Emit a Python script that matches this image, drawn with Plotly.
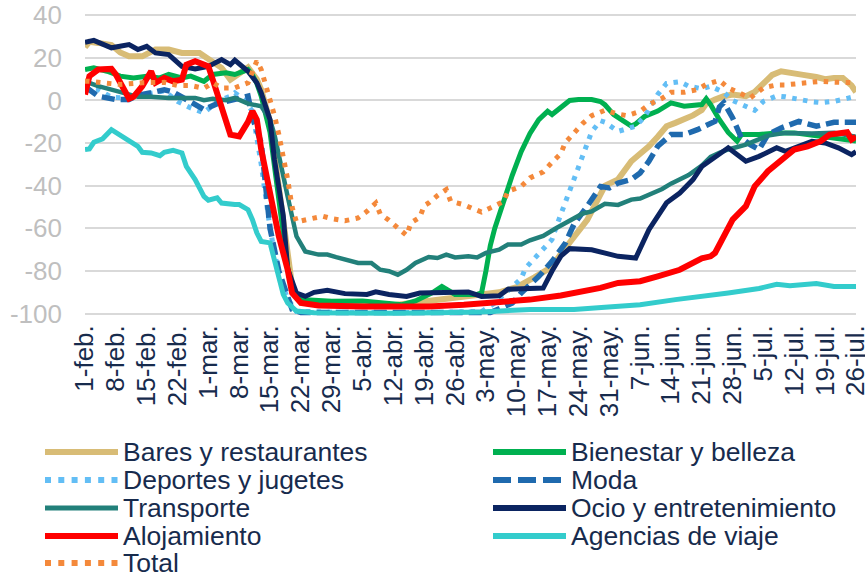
import plotly.graph_objects as go

# ---------------- data (day index 0 = 1-feb) ----------------
tick_labels = ["1-feb.", "8-feb.", "15-feb.", "22-feb.", "1-mar.", "8-mar.", "15-mar.", "22-mar.",
               "29-mar.", "5-abr.", "12-abr.", "19-abr.", "26-abr.", "3-may.", "10-may.", "17-may.",
               "24-may.", "31-may.", "7-jun.", "14-jun.", "21-jun.", "28-jun.", "5-jul.", "12-jul.",
               "19-jul.", "26-jul."]
tick_days = [7 * i for i in range(len(tick_labels))]
y_ticks = [-100, -80, -60, -40, -20, 0, 20, 40]
y_tick_text = ["-100", "-80", "-60", "-40", "-20", "0", "20", "40"]

bares_days = [0, 1, 3, 6, 8, 10, 13, 16, 19, 22, 26, 28, 31, 33, 35, 37, 39, 40, 42, 44, 46, 47, 48, 50, 55, 60, 65, 70,
              74, 80, 85, 88, 91, 94, 98, 100, 102, 104, 106, 108, 110, 112, 114, 116, 118, 121, 124, 126, 128, 130,
              132, 134, 136, 138, 140, 141, 143, 145, 147, 150, 152, 154, 156, 158, 160, 163, 166, 168, 170, 172,
              174, 175]
bares_vals = [25, 27.5, 27, 26, 22.5, 20.7, 20.7, 23.9, 23.9, 22.3, 22.3, 19.2, 15.3, 9.8, 13, 15.5, 10, 5, -10, -40,
              -75, -87, -92, -95, -95.5, -96, -96, -96, -95, -93.5, -92.5, -92, -91, -90, -87.5, -85.5, -83, -80.5,
              -78, -72, -67, -61.5, -56, -48, -40, -37, -28.5, -25, -21.5, -17, -12.1, -10.5, -9, -7, -4.5, -1.5,
              0.4, 2, 2.8, 2, 4, 8, 12, 13.7, 12.8, 12, 11, 10, 10.5, 10.5, 7, 4]

bien_days = [0, 2, 5, 8, 11, 14, 17, 19, 22, 24, 27, 29, 32, 34, 37, 38, 39, 40, 42, 44, 46, 47, 48, 50, 56, 63, 68,
             72, 75, 77, 79, 81, 83, 84, 89, 90, 91, 92, 93, 95, 97, 99, 101, 103, 105, 106, 108, 110, 112, 115, 117,
             118, 120, 122, 124, 125, 127, 130, 133, 136, 140, 141, 142, 144, 146, 148, 149, 153, 157, 161, 167,
             171, 175]
bien_vals = [14.5, 15.3, 13.7, 11.4, 10.6, 11.4, 10.6, 12.2, 10.6, 11.4, 9, 12.2, 13, 12.2, 14.5, 12, 8, 2, -15, -45,
             -78, -88, -92, -93.5, -94.2, -94, -95, -95.8, -94, -92, -90, -87.2, -89.5, -91, -91, -90.3, -80, -68,
             -60, -46.5, -35, -24, -15.5, -9, -5.1, -6.6, -3.5, 0, 0.4, 0.4, -0.5, -2, -6.6, -9.5, -12, -11, -7.5,
             -5, -1.1, -2.7, -1.9, 0.8, -2, -9, -15, -19.1, -16, -16, -15.2, -15.2, -16.8, -18.3, -19]

dep_days = [0, 3, 6, 10, 14, 18, 21, 24, 27, 30, 33, 34, 36, 38, 40, 42, 44, 46, 48, 60, 80, 90, 93, 99, 100, 102,
            104, 106, 107, 108, 109, 110, 111, 112, 113, 114, 115, 117, 118, 121, 125, 127, 130, 132, 135, 137, 140,
            142, 145, 147, 149, 152, 154, 157, 159, 162, 165, 167, 170, 173, 175]
dep_vals = [6, 5.1, 1.5, 1, 3, 4.5, -0.4, -3.5, -5.8, -0.4, 2, 3.6, 0.5, -5, -30, -60, -82, -93, -99, -99.5, -99.5,
            -99, -95, -83.5, -78.6, -73.9, -69.5, -65.2, -59, -53.5, -48, -41.8, -36, -31, -26, -20, -14.7, -9.5,
            -10.2, -14.5, -12.1, -7.6, 2.8, 8, 8.8, 6.7, 5.5, 6.7, 3.8, 0, -1.9, -4.6, -0.4, 2.1, 1.7, 0.4, -0.6,
            -1, -0.4, 1, 2]

moda_days = [0, 1, 3, 7, 10, 12, 15, 18, 20, 23, 25, 27, 30, 34, 37, 38, 40, 41, 42, 44, 46, 47, 49, 60, 75, 92, 97,
             99, 103, 106, 109, 111, 114, 117, 119, 121, 124, 126, 128, 130, 133, 136, 139, 142, 143, 144, 145, 147,
             149, 151, 153, 155, 158, 162, 166, 170, 175]
moda_vals = [5, 5, 2, 0.4, 0.4, 2.4, 3.6, 5, 4, 0.5, -2, -4.3, -1.5, 0.4, 2, -8, -20, -40, -60, -80, -91, -98, -99.5,
             -99.5, -99.5, -99.5, -95, -90.3, -82.5, -75.5, -67, -58, -49.6, -40.3, -41, -38.7, -37.1, -34, -28.5,
             -21.5, -16, -16, -13.7, -11, -9.8, -3, -1, -8.2, -17.6, -20.7, -23, -16, -12.9, -9.8, -12.1, -10.2,
             -10.2]

trans_days = [0, 3, 6, 9, 12, 15, 19, 25, 27, 29, 32, 34, 37, 40, 42, 43, 45, 46, 48, 50, 53, 55, 57, 59, 62, 65, 67,
              69, 71, 73, 75, 78, 80, 82, 84, 87, 89, 91, 94, 96, 99, 101, 104, 107, 110, 113, 115, 118, 121, 124,
              126, 129, 131, 133, 135, 137, 140, 142, 144, 146, 150, 155, 159, 165, 170, 175]
trans_vals = [9, 6.7, 5.1, 3.6, 1.7, 1.7, 1.2, 1.2, 0.1, 0.8, 0.1, 1.2, -1.5, -2.7, -9, -16, -34, -45, -63.7, -70.8,
              -72.3, -72.3, -73.5, -74.7, -76.2, -76.2, -79.4, -80.1, -81.7, -79.4, -76.2, -73.4, -73.9, -72.3,
              -73.6, -73.1, -73.6, -71.5, -70, -67.6, -67.6, -65.6, -63.5, -59.8, -56.2, -53, -52, -48.5, -49,
              -46.5, -46, -43.4, -41.5, -39, -37, -35, -30.5, -26.5, -24.5, -23, -20.7, -16.5, -15.2, -15.5, -15.2,
              -17]

ocio_days = [0, 2, 6, 10, 12, 14, 16, 19, 22, 25, 28, 31, 33, 34, 37, 39, 40, 42, 43, 45, 46, 48, 50, 52, 55, 59, 64,
             66, 69, 73, 76, 82, 87, 90, 94, 96, 104, 106, 108, 110, 115, 121, 125, 128, 132, 135, 138, 140, 142,
             144, 146, 150, 153, 157, 159, 162, 165, 168, 171, 174, 175]
ocio_vals = [27.3, 28.2, 24.7, 26.2, 23.9, 25.4, 22.3, 21.5, 16, 14.8, 16, 19.2, 16.8, 18.9, 13.7, 8.3, 3.6, -9,
             -27.7, -54, -79, -90.3, -91.9, -90, -89, -90.6, -91, -89.8, -91, -91.9, -90.3, -89.8, -89.8, -91.9,
             -91.6, -88.5, -88, -80, -73, -69.5, -70, -73.1, -73.9, -60.6, -48, -43.4, -37.1, -31, -28, -24.6,
             -22.2, -28.5, -26.2, -22.2, -23.8, -21.5, -19.1, -19.9, -22.2, -25.4, -24]

aloj_days = [0, 1, 3, 6, 7, 9, 10, 11, 13, 15, 16, 18, 20, 22, 23, 25, 28, 29, 31, 32, 33, 35, 37, 38, 39, 40, 42, 44,
             46, 47, 49, 53, 63, 78, 86, 93, 101, 108, 112, 117, 121, 126, 130, 135, 140, 142, 143, 145, 147, 150,
             152, 155, 158, 161, 164, 167, 169, 171, 173, 174, 175]
aloj_vals = [2.8, 11.4, 14.5, 14.8, 12.2, 5.1, 0.8, 1.7, 6.7, 13.7, 8.3, 10.6, 9, 9.8, 16.8, 18.4, 16, 9.8, -4.3,
             -10.5, -16, -16.8, -10, -5, -9, -23, -45, -63.7, -79.4, -90.3, -95, -96.2, -96.6, -96.6, -95.8, -95,
             -93.4, -91.5, -90, -87.9, -85.6, -84.8, -82.5, -79.4, -74, -73.1, -71.5, -63.7, -55.9, -49.6, -40.3,
             -33.2, -27.7, -23, -21.5, -19.1, -16, -15.2, -14.9, -18.3, -17]

agen_days = [0, 1, 2, 4, 6, 8, 10, 12, 13, 15, 17, 18, 20, 22, 23, 25, 27, 28, 30, 31, 34, 35, 37, 38, 39, 40, 42, 43,
             44, 45, 46, 48, 52, 60, 70, 80, 90, 101, 111, 118, 126, 134, 140, 146, 153, 157, 160, 166, 170, 175]
agen_vals = [-23, -22.7, -19.6, -18, -13.7, -16.5, -18.7, -21.5, -24.3, -24.6, -25.9, -24.3, -23.4, -24.6, -30.9,
             -37.1, -45, -46.8, -45.7, -48.1, -48.8, -48.8, -51.2, -55.9, -62.1, -66.1, -66.8, -74.7, -84.1, -91,
             -95, -98.8, -99.6, -99.8, -99.8, -99.6, -99.2, -98, -98, -97, -95.8, -93.4, -92, -90.3, -88.2, -86.2,
             -86.9, -85.9, -87.2, -87.2]

total_days = [0, 1, 4, 8, 13, 18, 21, 24, 27, 29, 31, 34, 37, 38, 39, 40, 41, 42, 43, 44, 45, 46, 47, 48, 51, 54, 56,
              59, 62, 64, 66, 67, 69, 71, 73, 74, 76, 77, 78, 80, 82, 83, 86, 88, 90, 92, 95, 96, 99, 101, 104, 106,
              108, 109, 111, 113, 115, 118, 121, 123, 126, 128, 131, 133, 136, 139, 141, 144, 146, 149, 151, 154,
              157, 159, 162, 165, 167, 170, 173, 175]
total_vals = [9, 9, 8.3, 7.5, 8.3, 8.5, 7, 7, 5.7, 8.3, 5.9, 5.9, 8.3, 13, 18.5, 14.5, 7.5, 1.5, -7, -16, -26, -37,
              -50, -57, -55.6, -54.3, -55.4, -56.4, -55.1, -52, -48.1, -53.2, -56.2, -59.8, -63.3, -57.4, -54.8,
              -49.3, -48.1, -44.6, -41.8, -47.3, -48.9, -50.7, -52.3, -50.4, -47.4, -42.6, -40.3, -36.3, -33.5, -29,
              -24.9, -19.8, -15, -10.7, -7.1, -4.6, -6.4, -7.1, -5.1, -1.9, 1, 3.8, 3.8, 5.1, 7.5, 9.4, 5.9, 3.4,
              1.2, 6, 7.3, 7.3, 7.9, 8.4, 9, 8.6, 8.4, 8.3]

# ---------------- styles ----------------
series = [
    ("Bares y restaurantes", bares_days, bares_vals, "#D8BC76", 6, "solid"),
    ("Bienestar y belleza", bien_days, bien_vals, "#00B050", 5, "solid"),
    ("Deportes y jugetes", dep_days, dep_vals, "#63BEF5", 5, "4.5px,6.5px"),
    ("Moda", moda_days, moda_vals, "#1F6AAE", 5.5, "13px,6px"),
    ("Transporte", trans_days, trans_vals, "#22807A", 4.5, "solid"),
    ("Ocio y entretenimiento", ocio_days, ocio_vals, "#0B2461", 5, "solid"),
    ("Alojamiento", aloj_days, aloj_vals, "#FF0000", 6, "solid"),
    ("Agencias de viaje", agen_days, agen_vals, "#33CCCC", 5, "solid"),
    ("Total", total_days, total_vals, "#F4893B", 5, "4.5px,6.5px"),
]

FONT = "Liberation Sans, Arial, sans-serif"
NAVY_TXT = "#172B4D"

fig = go.Figure()
for name, d, v, col, w, dash in series:
    fig.add_trace(go.Scatter(x=d, y=v, mode="lines", name=name, showlegend=False,
                             line=dict(color=col, width=w, dash=dash), hoverinfo="skip"))

# plot geometry in pixels (for the hand-made legend)
L, R, T, B = 85, 856, 12, 319
W_PX, H_PX = 865, 577
YMIN, YMAX = -102.5, 41.5


def xp(px):
    return (px - L) / (R - L)


def yp(py):
    return (B - py) / (B - T)


fig.update_layout(
    width=W_PX, height=H_PX,
    margin=dict(l=L, r=W_PX - R, t=T, b=H_PX - B, pad=0),
    paper_bgcolor="white", plot_bgcolor="white",
    font=dict(family=FONT),
    xaxis=dict(range=[0, 175], tickvals=tick_days, ticktext=tick_labels, tickangle=-90,
               showgrid=False, zeroline=False, showline=False, ticks="", automargin=False,
               ticklabeloverflow="allow",
               tickfont=dict(size=26, color=NAVY_TXT, family=FONT)),
    xaxis2=dict(range=[0, 175], overlaying="x", anchor="free", automargin=False,
                position=(0 - YMIN) / (YMAX - YMIN), side="bottom",
                tickvals=tick_days, showticklabels=False, ticks="outside", ticklen=7,
                tickwidth=1.5, tickcolor="#D9D9D9", showgrid=False, zeroline=False, showline=False),
    yaxis=dict(range=[YMIN, YMAX], tickvals=y_ticks, ticktext=y_tick_text, automargin=False,
               showgrid=True, gridcolor="#D9D9D9", gridwidth=1.8, zeroline=False, showline=False,
               ticks="", tickfont=dict(size=26, color="#BFBFBF", family=FONT), ticklabelstandoff=22),
)

# ---------------- legend (two columns, below the axis labels) ----------------
legend_items = [
    ("Bares y restaurantes", "#D8BC76", "solid", 6, 45, 452),
    ("Bienestar y belleza", "#00B050", "solid", 6, 493, 452),
    ("Deportes y jugetes", "#63BEF5", "6px,7.3px", 6, 45, 480),
    ("Moda", "#1F6AAE", "18px,7px", 6, 493, 480),
    ("Transporte", "#22807A", "solid", 5, 45, 508),
    ("Ocio y entretenimiento", "#0B2461", "solid", 6, 493, 508),
    ("Alojamiento", "#FF0000", "solid", 6, 45, 536),
    ("Agencias de viaje", "#33CCCC", "solid", 6, 493, 536),
    ("Total", "#F4893B", "6px,7.3px", 6, 45, 563),
]
for text, col, dash, w, x0, yrow in legend_items:
    fig.add_shape(type="line", xref="paper", yref="paper",
                  x0=xp(x0), x1=xp(x0 + 73), y0=yp(yrow), y1=yp(yrow),
                  line=dict(color=col, width=w, dash=dash))
    fig.add_annotation(xref="paper", yref="paper", x=xp(x0 + 76), y=yp(yrow),
                       xanchor="left", yanchor="middle", text=text, showarrow=False,
                       font=dict(size=26.5, color=NAVY_TXT, family=FONT))

# remove the default 8px page margin so the figure sits at the window's top-left corner
fig.write_html("out.html", config={"displayModeBar": False},
               post_script="document.body.style.margin='0';")
